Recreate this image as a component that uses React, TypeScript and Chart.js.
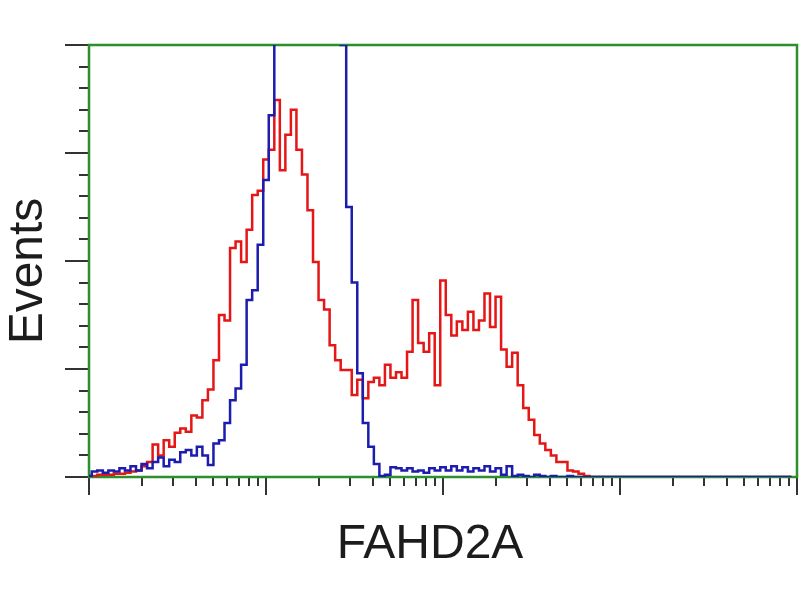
import React, { useEffect, useRef } from "react";
import { Chart, registerables } from "chart.js";

Chart.register(...registerables);

// histogram channel bins (32 bins per decade, 4 decades)
const BINS: number[] = Array.from({ length: 128 }, (_, i) => i);

// red: FAHD2A antibody stained
const RED: number[] = [
  1, 1, 2, 2, 2, 3, 3, 4, 5, 6,
  10, 14, 30, 20, 34, 28, 41, 45, 42, 57,
  55, 71, 81, 108, 150, 145, 212, 218, 199, 229,
  261, 265, 294, 303, 349, 284, 317, 340, 303, 280,
  247, 199, 164, 155, 122, 108, 99, 99, 76, 90,
  73, 88, 92, 85, 104, 92, 97, 92, 116, 164,
  124, 116, 133, 85, 182, 150, 131, 144, 136, 153,
  136, 145, 170, 139, 167, 118, 102, 115, 85, 64,
  53, 39, 31, 25, 20, 14, 14, 6, 5, 3,
  1, 0, 0, 0, 0, 0, 0, 0, 0, 0,
  0, 0, 0, 0, 0, 0, 0, 0, 0, 0,
  0, 0, 0, 0, 0, 0, 0, 0, 0, 0,
  0, 0, 0, 0, 0, 0, 0, 0,
];

// blue: isotype control
const BLUE: number[] = [
  1, 5, 6, 4, 6, 5, 8, 6, 10, 6,
  12, 8, 14, 18, 10, 16, 14, 23, 25, 20,
  28, 20, 11, 31, 34, 50, 71, 82, 104, 164,
  173, 215, 275, 335, 430, 470, 500, 520, 530, 525,
  510, 490, 470, 450, 430, 415, 400, 250, 180, 96,
  50, 28, 12, 1, 2, 9, 8, 6, 8, 5,
  6, 4, 8, 6, 9, 6, 10, 6, 9, 5,
  8, 6, 10, 5, 8, 2, 10, 1, 2, 1,
  0, 2, 1, 0, 1, 0, 0, 1, 0, 0,
  0, 0, 0, 0, 0, 0, 0, 0, 0, 0,
  0, 0, 0, 0, 0, 0, 0, 0, 0, 0,
  0, 0, 0, 0, 0, 0, 0, 0, 0, 0,
  0, 0, 0, 0, 0, 0, 0, 0,
];

const Y_MAX = 400;
const Y_MAJOR: number[] = [0, 100, 200, 300, 400];
const Y_MINOR_STEP = 20;
const X_DECADES: number[] = [0, 1, 2, 3, 4];
const X_MINOR_MULT: number[] = [2, 3, 4, 5, 6, 7, 8, 9];
const BINS_PER_DECADE = 32;
const X_TITLE = "FAHD2A";
const Y_TITLE = "Events";

const GREEN = "#2b8f2b";
const TICK = "#333333";

const framePlugin = {
  id: "frame",
  beforeDatasetsDraw(chart: any) {
    const { ctx, chartArea, scales } = chart;
    const xs = scales.x;
    const ys = scales.y;
    const { left, right, top, bottom } = chartArea;
    ctx.save();
    // tick marks
    ctx.strokeStyle = TICK;
    ctx.lineWidth = 2;
    ctx.beginPath();
    for (let v = 0; v <= Y_MAX; v += Y_MINOR_STEP) {
      const y = Math.round(ys.getPixelForValue(v));
      const major = Y_MAJOR.includes(v);
      ctx.moveTo(left - (major ? 24 : 10), y);
      ctx.lineTo(left, y);
    }
    X_DECADES.forEach((d) => {
      const x = Math.round(xs.getPixelForValue(d * BINS_PER_DECADE));
      ctx.moveTo(x, bottom);
      ctx.lineTo(x, bottom + 18);
      if (d < X_DECADES[X_DECADES.length - 1]) {
        X_MINOR_MULT.forEach((k) => {
          const xm = Math.round(xs.getPixelForValue((d + Math.log10(k)) * BINS_PER_DECADE));
          ctx.moveTo(xm, bottom);
          ctx.lineTo(xm, bottom + 9);
        });
      }
    });
    ctx.stroke();
    // green frame
    ctx.strokeStyle = GREEN;
    ctx.lineWidth = 2.5;
    ctx.strokeRect(left, top, right - left, bottom - top);
    // titles
    ctx.fillStyle = "#1c1c1c";
    ctx.font = '48px "Liberation Sans", Arial, sans-serif';
    ctx.textAlign = "center";
    ctx.textBaseline = "alphabetic";
    ctx.fillText(X_TITLE, 430, 558);
    ctx.translate(42, 271);
    ctx.rotate(-Math.PI / 2);
    ctx.fillText(Y_TITLE, 0, 0);
    ctx.restore();
  },
};

export default function App() {
  const ref = useRef<HTMLCanvasElement | null>(null);
  useEffect(() => {
    if (!ref.current) return;
    const chart = new Chart(ref.current, {
      type: "line",
      data: {
        labels: BINS,
        datasets: [
          {
            label: "Control",
            data: BLUE,
            borderColor: "rgb(28,28,175)",
            borderWidth: 2.5,
            pointRadius: 0,
            stepped: "middle",
            fill: false,
          },
          {
            label: "FAHD2A",
            data: RED,
            borderColor: "rgb(228,22,22)",
            borderWidth: 2.5,
            pointRadius: 0,
            stepped: "middle",
            fill: false,
          },
        ],
      },
      options: {
        animation: false,
        responsive: true,
        maintainAspectRatio: false,
        layout: { padding: { left: 89, right: 3, top: 45, bottom: 123 } },
        plugins: { legend: { display: false }, tooltip: { enabled: false } },
        scales: {
          x: { type: "linear", min: 0, max: 128, display: false },
          y: { type: "linear", min: 0, max: Y_MAX, display: false },
        },
      },
      plugins: [framePlugin],
    });
    return () => chart.destroy();
  }, []);
  return (
    <div style={{ position: "fixed", left: 0, top: 0, width: 800, height: 600, background: "#fff" }}>
      <canvas ref={ref} />
    </div>
  );
}
